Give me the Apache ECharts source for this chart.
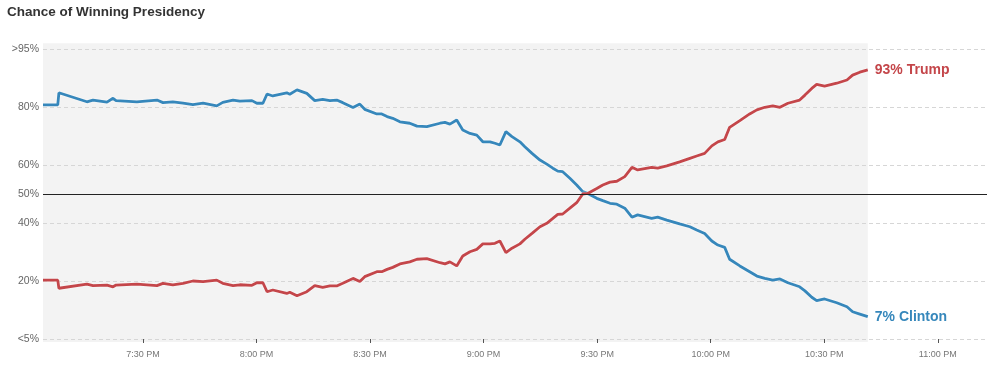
<!DOCTYPE html>
<html><head><meta charset="utf-8">
<script src="https://cdn.jsdelivr.net/npm/echarts@6/dist/echarts.min.js"></script>
<style>html,body{margin:0;padding:0;background:#fff}#c{width:1000px;height:373px}</style>
</head><body><div id="c"></div>
<script>
// Time of each reading, in minutes after 7:00 PM
const minutesAfter7pm = [3.6,7.5,7.8,15.2,16.8,20.5,22.1,22.9,28.4,33.7,35.3,37.9,40.6,43.2,45.9,49.5,51.1,53.8,55.6,58.8,60.1,61.7,62.8,64.3,68.0,68.8,70.7,73.3,75.4,77.5,79.4,81.2,82.8,85.5,87.3,88.6,91.8,93.1,94.5,96.0,97.9,100.5,102.4,105.0,108.5,109.8,111.1,112.9,114.5,116.4,118.2,119.8,121.7,123.0,124.3,125.9,127.5,129.6,130.9,132.8,134.9,136.7,138.3,139.6,140.9,142.8,144.6,146.2,147.5,149.9,151.5,153.4,155.2,157.3,159.2,160.7,164.4,166.0,168.4,171.8,174.5,176.3,178.4,180.3,181.9,183.7,185.0,187.7,190.3,192.2,194.3,196.4,198.3,200.4,203.5,204.9,206.7,208.0,210.1,213.3,216.0,217.5,219.4,221.5];
// Chance of winning, percent
const clinton = [80.7,80.7,84.9,81.8,82.4,81.7,83.0,82.2,81.8,82.4,81.5,81.8,81.3,80.8,81.3,80.4,81.6,82.4,82.0,82.2,81.3,81.3,84.5,83.8,84.9,84.4,85.9,84.7,82.2,82.6,82.2,82.4,81.5,79.8,81.0,79.2,77.6,77.6,76.7,76.1,74.9,74.4,73.4,73.2,74.4,74.7,74.1,75.5,72.1,70.9,70.3,68.0,68.0,67.5,66.9,71.5,69.8,68.0,66.3,64.0,61.7,60.3,58.9,57.9,57.7,55.4,53.1,50.8,50.2,48.5,47.7,46.8,46.5,45.1,42.0,42.8,41.6,42.0,41.0,39.7,38.7,37.6,36.4,33.8,32.4,31.6,27.5,25.2,23.2,21.7,20.9,20.3,20.7,19.4,18.0,16.6,14.4,13.2,13.8,12.5,11.1,9.4,8.6,7.7];
const trump = [20.3,20.3,17.5,18.9,18.4,18.6,18.0,18.6,18.9,18.4,19.2,18.7,19.2,20.0,19.8,20.3,19.2,18.4,18.7,18.5,19.4,19.4,16.3,16.9,15.7,16.1,14.9,16.3,18.4,17.8,18.3,18.3,19.2,20.9,19.8,21.5,23.2,23.2,24.0,24.7,25.9,26.6,27.5,27.7,26.3,25.9,26.6,25.2,28.6,30.1,30.9,32.8,32.8,33.0,33.8,29.8,31.3,32.8,34.4,36.4,38.7,39.9,41.6,43.0,43.1,45.1,47.0,50.0,50.2,51.9,53.1,54.1,54.4,56.0,59.2,58.3,59.2,58.9,59.7,61.1,62.3,63.1,64.0,66.6,68.0,68.8,73.0,75.3,77.6,79.0,79.9,80.4,79.9,81.3,82.4,84.1,86.4,87.8,87.2,88.2,89.3,91.0,92.0,92.8];
const xTickMinutes = [30,60,90,120,150,180,210,240];
const yTickValues = [0,20,40,50,60,80,100];
const yTickLabels = ['<5%','20%','40%','50%','60%','80%','>95%'];
const endLabels = {Clinton: '7% Clinton', Trump: '93% Trump'};

const pair = arr => minutesAfter7pm.map((t, i) => [t, arr[i]]);
const firstT = minutesAfter7pm[0];
const lastT = minutesAfter7pm[minutesAfter7pm.length - 1];
const FONT = '"Liberation Sans", Arial, sans-serif';

function fmtTime(v) {
  const h = 7 + Math.floor(v / 60);
  const m = Math.round(v % 60);
  return h + ':' + (m < 10 ? '0' + m : m) + ' PM';
}

const chart = echarts.init(document.getElementById('c'), null, {renderer: 'canvas'});
chart.setOption({
  animation: false,
  backgroundColor: '#fff',
  title: {
    text: 'Chance of Winning Presidency', left: 7, top: 5, padding: 0,
    textStyle: {fontSize: 13.5, fontWeight: 'bold', color: '#333', fontFamily: FONT}
  },
  grid: {left: 43, right: 13, top: 43.2, bottom: 31.1, containLabel: false},
  xAxis: {
    type: 'value', min: 3.6, max: 253, z: 1,
    axisLine: {show: false},
    axisTick: {show: true, length: 4, customValues: xTickMinutes, lineStyle: {color: '#555', width: 1}},
    axisLabel: {customValues: xTickMinutes, formatter: fmtTime, color: '#777', fontSize: 9, margin: 8, fontFamily: FONT},
    splitLine: {show: false}
  },
  yAxis: {
    type: 'value', min: -1, max: 102, z: 1,
    axisLine: {show: false},
    axisTick: {show: false, customValues: yTickValues},
    axisLabel: {
      customValues: yTickValues,
      formatter: v => yTickLabels[yTickValues.indexOf(v)] || '',
      color: '#666', fontSize: 10.5, margin: 4, fontFamily: FONT
    },
    splitLine: {show: true, lineStyle: {color: ['#d6d6d6','#d6d6d6','#d6d6d6','rgba(0,0,0,0)','#d6d6d6','#d6d6d6','#d6d6d6'], type: [4, 3], width: 1}}
  },
  series: [
    {
      name: 'background', type: 'line', data: [], z: -1, silent: true,
      markArea: {
        silent: true, z: -1, zlevel: 0, itemStyle: {color: '#f3f3f3'},
        data: [[{xAxis: firstT, yAxis: -1}, {xAxis: lastT, yAxis: 102}]]
      }
    },
    {
      name: 'Clinton', type: 'line', data: pair(clinton), showSymbol: false, symbol: 'none',
      lineStyle: {color: '#3687bb', width: 2.8, shadowColor: 'rgba(255,255,255,0.9)', shadowBlur: 2},
      itemStyle: {color: '#3687bb'},
      z: 3,
      endLabel: {show: true, formatter: () => endLabels.Clinton, color: '#3687bb', fontSize: 14, fontWeight: 'bold', fontFamily: FONT, distance: 7},
      markLine: {
        silent: true, symbol: 'none', label: {show: false},
        lineStyle: {color: '#222', type: 'solid', width: 1},
        data: [{yAxis: 50}]
      }
    },
    {
      name: 'Trump', type: 'line', data: pair(trump), showSymbol: false, symbol: 'none',
      lineStyle: {color: '#c4464a', width: 2.8, shadowColor: 'rgba(255,255,255,0.9)', shadowBlur: 2},
      itemStyle: {color: '#c4464a'},
      z: 4,
      endLabel: {show: true, formatter: () => endLabels.Trump, color: '#c4464a', fontSize: 14, fontWeight: 'bold', fontFamily: FONT, distance: 7}
    }
  ]
});
</script>
</body></html>
